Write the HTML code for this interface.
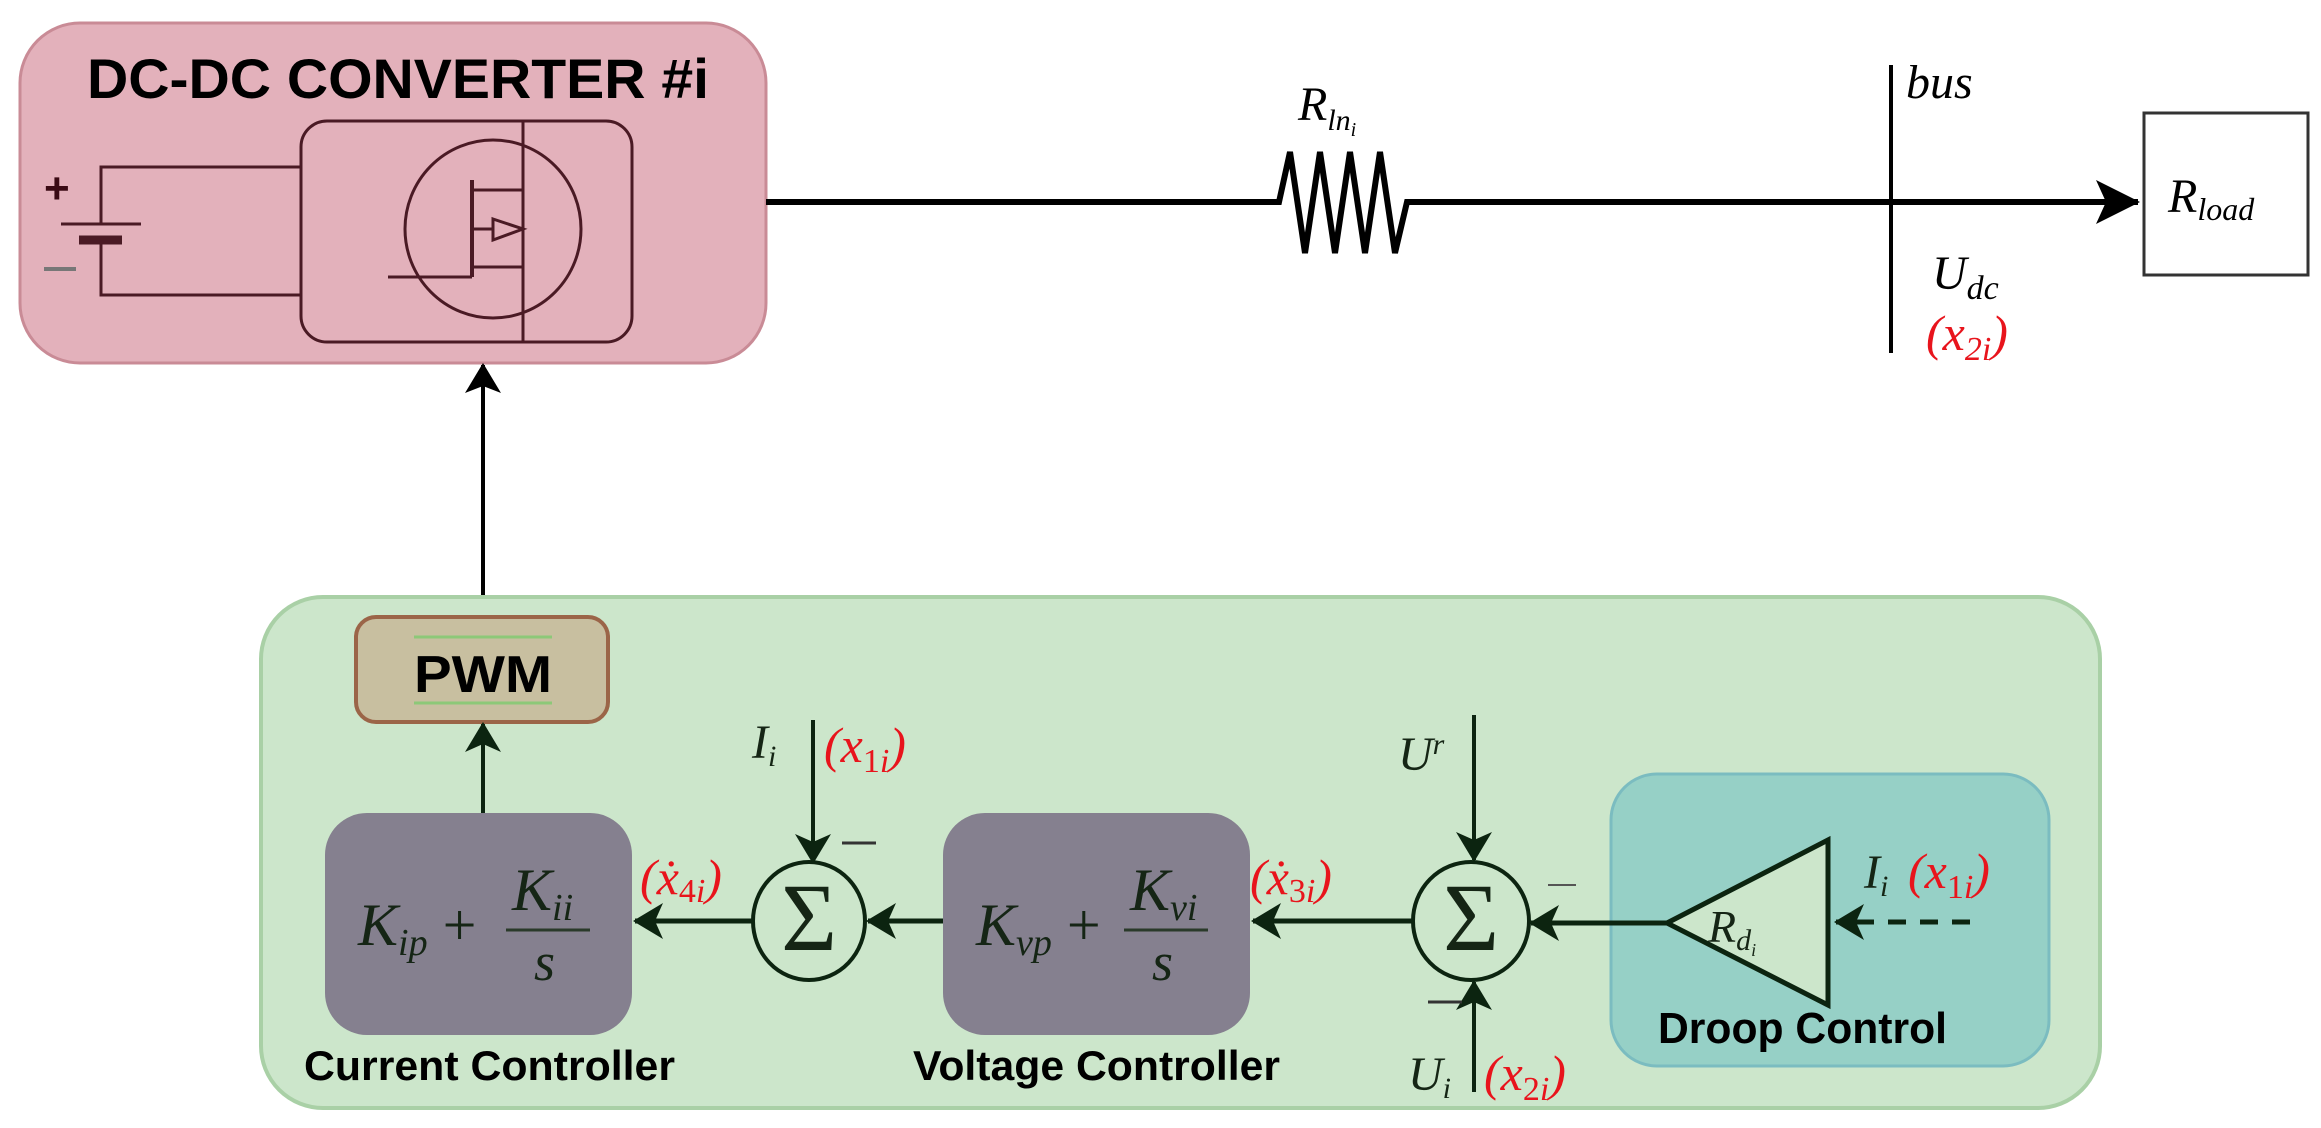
<!DOCTYPE html>
<html><head><meta charset="utf-8"><style>
html,body{margin:0;padding:0;background:#fff;}
svg{display:block;}
.m{font-family:"Liberation Serif",serif;font-style:italic;}
.b{font-family:"Liberation Sans",sans-serif;font-weight:bold;}
</style></head><body>
<svg width="2321" height="1128" viewBox="0 0 2321 1128" xmlns="http://www.w3.org/2000/svg">
<defs>
<marker id="ah" viewBox="0 0 30 36" refX="28" refY="18" markerWidth="30" markerHeight="36" markerUnits="userSpaceOnUse" orient="auto">
<path d="M0,0 L30,18 L0,36 L8,18 Z" fill="#0c2410"/></marker>
<marker id="ahb" viewBox="0 0 44 44" refX="42" refY="22" markerWidth="44" markerHeight="44" markerUnits="userSpaceOnUse" orient="auto">
<path d="M0,0 L44,22 L0,44 L10,22 Z" fill="#000"/></marker>
<marker id="ahk" viewBox="0 0 30 36" refX="28" refY="18" markerWidth="30" markerHeight="36" markerUnits="userSpaceOnUse" orient="auto">
<path d="M0,0 L30,18 L0,36 L7,18 Z" fill="#000"/></marker>
</defs>
<!-- converter -->
<rect x="20" y="23" width="746" height="340" rx="60" fill="#e3b1bb" stroke="#c98b96" stroke-width="3"/>
<text x="87" y="98" class="b" font-size="56" textLength="622" lengthAdjust="spacingAndGlyphs">DC-DC CONVERTER #i</text>
<g stroke="#4a1a24" stroke-width="3" fill="none">
<rect x="301" y="121" width="331" height="221" rx="26"/>
<ellipse cx="493" cy="229" rx="88" ry="89"/>
<line x1="523" y1="122" x2="523" y2="342"/>
<line x1="472" y1="180" x2="472" y2="277" stroke-width="4"/>
<line x1="388" y1="277" x2="472" y2="277"/>
<line x1="474" y1="190" x2="523" y2="190"/>
<line x1="474" y1="267" x2="523" y2="267"/>
<line x1="474" y1="229" x2="493" y2="229"/>
<path d="M493,219 L523,229 L493,240 Z"/>
<polyline points="301,167 101,167 101,224"/>
<polyline points="301,295 101,295 101,240"/>
<line x1="61" y1="224" x2="141" y2="224"/>
<line x1="79" y1="240" x2="122" y2="240" stroke-width="9"/>
</g>
<text x="44" y="203" class="b" font-size="44" fill="#3a0a14">+</text>
<line x1="44" y1="269" x2="76" y2="269" stroke="#777" stroke-width="4"/>
<!-- main line -->
<polyline points="766,202 1279,202 1290,152 1305,253 1320,152 1335,253 1350,152 1365,253 1380,152 1395,253 1407,202 2138,202" fill="none" stroke="#000" stroke-width="6" marker-end="url(#ahb)"/>
<line x1="1891" y1="65" x2="1891" y2="353" stroke="#000" stroke-width="4"/>
<rect x="2144" y="113" width="164" height="162" fill="#fff" stroke="#333" stroke-width="3"/>
<text x="2168" y="212" class="m" font-size="48">R<tspan font-size="32" dy="8">load</tspan></text>
<text x="1298" y="120" class="m" font-size="48">R<tspan font-size="30" dy="10">ln</tspan><tspan font-size="20" dy="6">i</tspan></text>
<text x="1906" y="98" class="m" font-size="48">bus</text>
<text x="1932" y="289" class="m" font-size="48">U<tspan font-size="34" dy="10">dc</tspan></text>
<text x="1926" y="350" class="m" font-size="50" fill="#e8141c">(x<tspan font-size="34" dy="10">2i</tspan><tspan dy="-10">)</tspan></text>
<!-- up arrow -->
<line x1="483" y1="617" x2="483" y2="365" stroke="#000" stroke-width="4" marker-end="url(#ahk)"/>
<!-- green box -->
<rect x="261" y="597" width="1839" height="511" rx="62" fill="#cce6cb" stroke="#a9d0a6" stroke-width="4"/>
<rect x="356" y="617" width="252" height="105" rx="20" fill="#c8bfa0" stroke="#9b6548" stroke-width="4"/>
<line x1="414" y1="637" x2="552" y2="637" stroke="#8dc878" stroke-width="3"/>
<line x1="414" y1="703" x2="552" y2="703" stroke="#8dc878" stroke-width="3"/>
<text x="414" y="692" class="b" font-size="52" textLength="138" lengthAdjust="spacingAndGlyphs">PWM</text>
<line x1="483" y1="813" x2="483" y2="724" stroke="#0c2410" stroke-width="4" marker-end="url(#ah)"/>
<!-- controllers -->
<rect x="325" y="813" width="307" height="222" rx="42" fill="#85808f"/>
<rect x="943" y="813" width="307" height="222" rx="42" fill="#85808f"/>
<g class="m" fill="#152515">
<text x="358" y="945" font-size="60">K<tspan font-size="38" dy="10">ip</tspan><tspan dy="-10" font-style="normal"> + </tspan></text>
<text x="512" y="910" font-size="60">K<tspan font-size="38" dy="10">ii</tspan></text>
<text x="534" y="980" font-size="54">s</text>
<text x="976" y="945" font-size="60">K<tspan font-size="38" dy="10">vp</tspan><tspan dy="-10" font-style="normal"> + </tspan></text>
<text x="1130" y="910" font-size="60">K<tspan font-size="38" dy="10">vi</tspan></text>
<text x="1152" y="980" font-size="54">s</text>
</g>
<line x1="506" y1="930" x2="590" y2="930" stroke="#2a3a2a" stroke-width="3"/>
<line x1="1124" y1="930" x2="1208" y2="930" stroke="#2a3a2a" stroke-width="3"/>
<text x="304" y="1080" class="b" font-size="42" textLength="371" lengthAdjust="spacingAndGlyphs">Current Controller</text>
<text x="913" y="1080" class="b" font-size="42" textLength="367" lengthAdjust="spacingAndGlyphs">Voltage Controller</text>
<!-- sums -->
<g fill="none" stroke="#0c2410" stroke-width="4">
<ellipse cx="809" cy="921" rx="56" ry="59"/>
<ellipse cx="1471" cy="921" rx="58" ry="59"/>
</g>
<text x="809" y="950" text-anchor="middle" font-family="Liberation Serif,serif" font-size="96" fill="#152515">Σ</text>
<text x="1471" y="950" text-anchor="middle" font-family="Liberation Serif,serif" font-size="96" fill="#152515">Σ</text>
<g stroke="#0c2410" stroke-width="5" fill="none">
<line x1="943" y1="921" x2="868" y2="921" marker-end="url(#ah)"/>
<line x1="752" y1="921" x2="635" y2="921" marker-end="url(#ah)"/>
<line x1="813" y1="720" x2="813" y2="862" stroke-width="4" marker-end="url(#ah)"/>
<line x1="1413" y1="921" x2="1253" y2="921" marker-end="url(#ah)"/>
<line x1="1474" y1="715" x2="1474" y2="860" stroke-width="4" marker-end="url(#ah)"/>
<line x1="1474" y1="1092" x2="1474" y2="982" stroke-width="4" marker-end="url(#ah)"/>
</g>
<line x1="842" y1="843" x2="876" y2="843" stroke="#333" stroke-width="3"/>
<line x1="1428" y1="1002" x2="1462" y2="1002" stroke="#333" stroke-width="3"/>
<line x1="1548" y1="885" x2="1576" y2="885" stroke="#555" stroke-width="2"/>
<!-- droop -->
<rect x="1611" y="774" width="438" height="292" rx="46" fill="#96d0c6" stroke="#7bbcc0" stroke-width="3"/>
<path d="M1667,923 L1828,840 L1828,1005 Z" fill="#cce6cb" stroke="#0c2410" stroke-width="5"/>
<line x1="1667" y1="923" x2="1531" y2="923" stroke="#0c2410" stroke-width="5" marker-end="url(#ah)"/>
<line x1="1970" y1="922" x2="1836" y2="922" stroke="#0c2410" stroke-width="5" stroke-dasharray="18,14" marker-end="url(#ah)"/>
<text x="1708" y="942" class="m" font-size="46" fill="#152515">R<tspan font-size="30" dy="8">d</tspan><tspan font-size="18" dy="6">i</tspan></text>
<text x="1658" y="1043" class="b" font-size="44" textLength="289" lengthAdjust="spacingAndGlyphs">Droop Control</text>
<!-- labels -->
<g class="m" font-size="48" fill="#152515">
<text x="752" y="758">I<tspan font-size="30" dy="8">i</tspan></text>
<text x="1398" y="770">U<tspan font-size="30" dy="-16">r</tspan></text>
<text x="1408" y="1090">U<tspan font-size="30" dy="8">i</tspan></text>
<text x="1864" y="888">I<tspan font-size="30" dy="8">i</tspan></text>
</g>
<g class="m" font-size="50" fill="#e8141c">
<text x="824" y="762">(x<tspan font-size="34" dy="10" font-style="normal">1</tspan><tspan font-size="34">i</tspan><tspan dy="-10">)</tspan></text>
<text x="640" y="894">(ẋ<tspan font-size="34" dy="8" font-style="normal">4</tspan><tspan font-size="34">i</tspan><tspan dy="-8">)</tspan></text>
<text x="1250" y="894">(ẋ<tspan font-size="34" dy="8" font-style="normal">3</tspan><tspan font-size="34">i</tspan><tspan dy="-8">)</tspan></text>
<text x="1484" y="1090">(x<tspan font-size="34" dy="10" font-style="normal">2</tspan><tspan font-size="34">i</tspan><tspan dy="-10">)</tspan></text>
<text x="1908" y="888">(x<tspan font-size="34" dy="10" font-style="normal">1</tspan><tspan font-size="34">i</tspan><tspan dy="-10">)</tspan></text>
</g>
</svg>
</body></html>
